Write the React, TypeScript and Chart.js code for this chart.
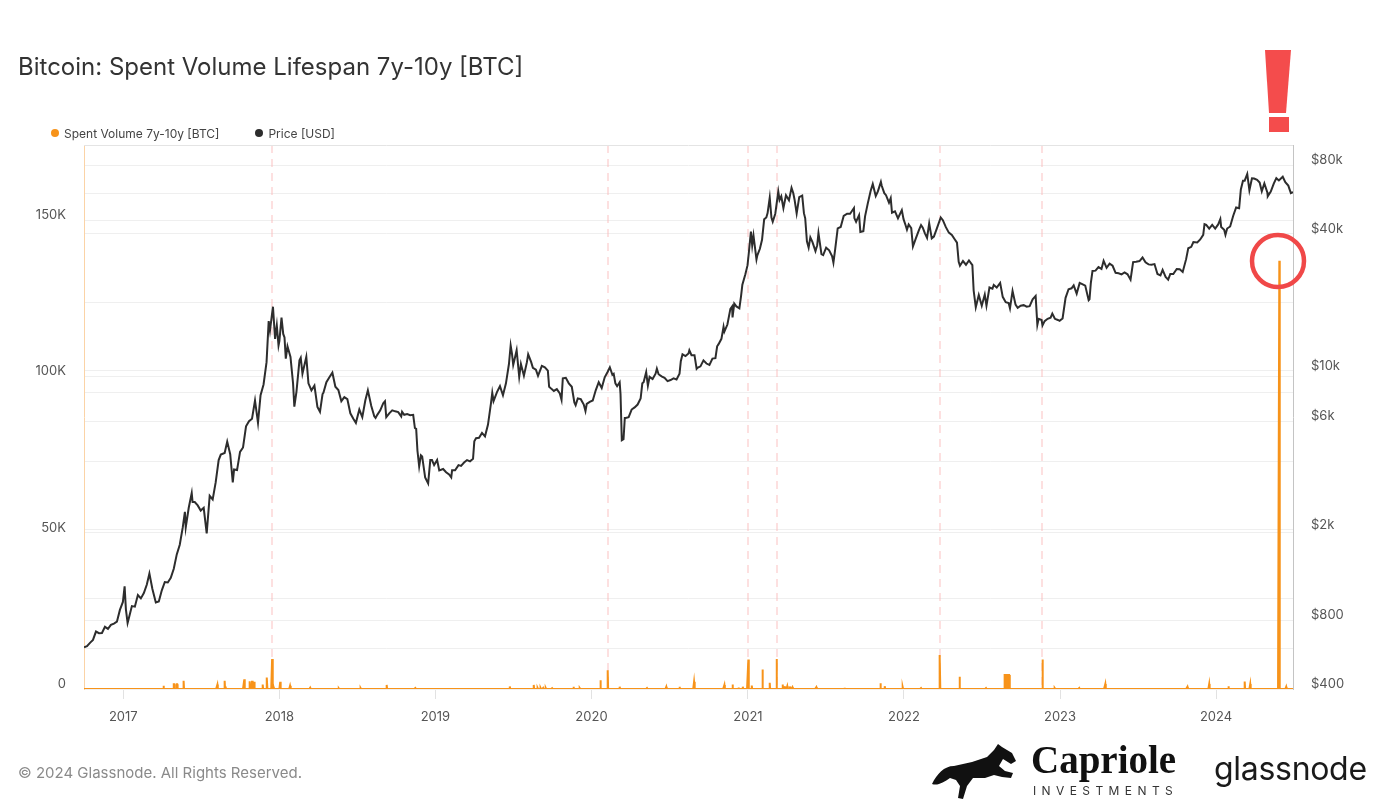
import React, { useEffect, useRef } from "react";
import { Chart, registerables } from "chart.js";

Chart.register(...registerables);

// ---------- DATA ----------
const xStart = "2016-10-01";
const xEnd = "2024-06-29";
const yearTicks = [2017, 2018, 2019, 2020, 2021, 2022, 2023, 2024];
const volumeTicks = [0, 50000, 100000, 150000];
const priceTicks = [400, 600, 800, 1000, 2000, 4000, 6000, 8000, 10000, 20000, 40000, 60000, 80000];
const priceTickLabels = [400, 800, 2000, 6000, 10000, 40000, 80000];
const markerDates = ["2017-12-15", "2020-02-08", "2021-01-02", "2021-03-09", "2022-03-26", "2022-11-21"];

const price2016: [string, number][] = [
  ["10-01", 610], ["10-08", 617], ["10-15", 638], ["10-22", 657], ["10-29", 715], ["11-05", 703], ["11-12", 705],
  ["11-19", 750], ["11-26", 735], ["12-03", 765], ["12-10", 775], ["12-17", 790], ["12-24", 890], ["12-31", 965],
];
const price2017: [string, number][] = [
  ["01-04", 1130], ["01-07", 895], ["01-11", 780], ["01-14", 820], ["01-21", 925], ["01-28", 920], ["02-04", 1035],
  ["02-11", 1000], ["02-18", 1055], ["02-25", 1150], ["03-03", 1285], ["03-10", 1100], ["03-18", 960], ["03-25", 970],
  ["04-01", 1085], ["04-08", 1180], ["04-15", 1175], ["04-22", 1230], ["04-29", 1350], ["05-06", 1560], ["05-13", 1720],
  ["05-20", 2050], ["05-25", 2400], ["05-27", 2050], ["06-03", 2500], ["06-10", 2900], ["06-12", 2650], ["06-17", 2650],
  ["06-24", 2560], ["07-01", 2430], ["07-08", 2500], ["07-15", 1930], ["07-22", 2820], ["07-29", 2720], ["08-05", 3230],
  ["08-12", 4050], ["08-17", 4280], ["08-26", 4350], ["09-01", 4880], ["09-08", 4300], ["09-14", 3230], ["09-17", 3680],
  ["09-24", 3660], ["10-01", 4400], ["10-08", 4600], ["10-15", 5700], ["10-22", 6000], ["10-29", 6150], ["11-05", 7400],
  ["11-12", 5900], ["11-18", 7800], ["11-25", 8700], ["12-02", 10900], ["12-07", 16500], ["12-10", 15000], ["12-17", 19100],
  ["12-22", 13800], ["12-26", 15800], ["12-30", 12900],
];
const price2018: [string, number][] = [
  ["01-01", 13500], ["01-06", 17100], ["01-10", 14500], ["01-13", 14000], ["01-16", 11300], ["01-20", 12800], ["01-27", 11500],
  ["02-02", 8800], ["02-05", 6950], ["02-10", 8100], ["02-17", 11100], ["02-20", 11400], ["02-24", 9700], ["03-05", 11500],
  ["03-10", 8800], ["03-17", 8200], ["03-24", 8600], ["03-31", 6930], ["04-06", 6600], ["04-12", 7900], ["04-14", 8000],
  ["04-21", 8900], ["04-28", 9350], ["05-05", 9800], ["05-12", 8500], ["05-19", 8230], ["05-26", 7350], ["06-02", 7650],
  ["06-09", 7500], ["06-16", 6500], ["06-23", 6150], ["06-29", 5900], ["07-07", 6750], ["07-14", 6250], ["07-21", 7400],
  ["07-27", 8200], ["08-04", 7000], ["08-11", 6300], ["08-14", 6200], ["08-18", 6400], ["08-25", 6700], ["09-01", 7200],
  ["09-05", 7350], ["09-08", 6250], ["09-15", 6500], ["09-22", 6700], ["09-29", 6630], ["10-06", 6580], ["10-13", 6300],
  ["10-15", 6600], ["10-20", 6400], ["10-27", 6450], ["11-03", 6380], ["11-10", 6400], ["11-14", 5600], ["11-17", 5550],
  ["11-20", 4450], ["11-24", 3800], ["11-28", 4250], ["12-01", 4200], ["12-08", 3400], ["12-15", 3200], ["12-20", 4050],
  ["12-24", 4050], ["12-29", 3850],
];
const price2019: [string, number][] = [
  ["01-05", 4050], ["01-10", 3650], ["01-19", 3700], ["01-26", 3580], ["02-02", 3500], ["02-07", 3400], ["02-09", 3650],
  ["02-16", 3650], ["02-24", 3850], ["03-02", 3820], ["03-09", 3950], ["03-16", 4050], ["03-23", 4000], ["03-30", 4100],
  ["04-02", 4900], ["04-06", 5050], ["04-13", 5070], ["04-20", 5330], ["04-27", 5150], ["05-04", 5800], ["05-11", 7200],
  ["05-14", 8000], ["05-17", 7350], ["05-25", 8050], ["06-01", 8550], ["06-08", 7800], ["06-15", 8800], ["06-22", 10700],
  ["06-26", 12900], ["06-29", 11900], ["07-02", 10600], ["07-06", 11400], ["07-10", 12300], ["07-16", 9400], ["07-20", 10700],
  ["07-27", 9500], ["08-03", 10900], ["08-06", 11800], ["08-13", 10900], ["08-17", 10300], ["08-24", 10100], ["08-29", 9500],
  ["09-07", 10500], ["09-14", 10350], ["09-21", 10000], ["09-24", 8500], ["09-30", 8300], ["10-05", 8150], ["10-12", 8300],
  ["10-19", 7950], ["10-23", 7450], ["10-26", 9250], ["11-02", 9300], ["11-09", 8800], ["11-16", 8500], ["11-22", 7250],
  ["11-25", 7050], ["11-30", 7550], ["12-07", 7500], ["12-14", 7100], ["12-18", 6650], ["12-21", 7150], ["12-28", 7300],
];
const price2020: [string, number][] = [
  ["01-04", 7400], ["01-11", 8200], ["01-18", 8900], ["01-25", 8400], ["02-01", 9350], ["02-08", 9900], ["02-13", 10350],
  ["02-19", 9600], ["02-22", 9700], ["02-26", 8800], ["03-01", 8550], ["03-07", 8900], ["03-09", 7900], ["03-12", 4950],
  ["03-16", 5000], ["03-19", 6200], ["03-21", 6200], ["03-28", 6250], ["04-04", 6750], ["04-11", 6900], ["04-18", 7100],
  ["04-25", 7550], ["04-29", 8800], ["05-02", 8900], ["05-08", 9850], ["05-12", 8600], ["05-16", 9400], ["05-23", 9200],
  ["05-30", 9700], ["06-02", 10200], ["06-06", 9650], ["06-13", 9450], ["06-20", 9300], ["06-27", 9000], ["07-04", 9100],
  ["07-11", 9250], ["07-18", 9150], ["07-25", 9700], ["07-28", 11000], ["08-01", 11800], ["08-08", 11600], ["08-15", 11900],
  ["08-17", 12300], ["08-22", 11700], ["08-29", 11700], ["09-03", 10200], ["09-05", 10300], ["09-12", 10450], ["09-19", 11100],
  ["09-26", 10750], ["10-03", 10600], ["10-10", 11300], ["10-17", 11350], ["10-21", 12800], ["10-24", 13050], ["10-31", 13800],
  ["11-05", 15600], ["11-07", 14850], ["11-14", 15950], ["11-21", 18700], ["11-25", 19150], ["11-26", 17150], ["11-30", 19700],
  ["12-05", 19150], ["12-12", 18800], ["12-16", 21300], ["12-19", 23850], ["12-26", 26500], ["12-31", 29000],
];
const price2021: [string, number][] = [
  ["01-03", 32800], ["01-08", 40800], ["01-11", 35500], ["01-14", 39200], ["01-21", 30800], ["01-23", 32100], ["01-29", 34300],
  ["02-03", 37600], ["02-08", 46200], ["02-13", 47100], ["02-16", 49200], ["02-21", 57500], ["02-25", 47000], ["02-28", 45100],
  ["03-06", 48900], ["03-13", 61200], ["03-16", 56200], ["03-20", 58300], ["03-25", 51700], ["03-31", 58900], ["04-07", 56000],
  ["04-13", 63500], ["04-17", 60300], ["04-20", 56500], ["04-25", 49000], ["05-01", 57800], ["05-08", 58700], ["05-12", 49200],
  ["05-15", 46700], ["05-19", 37000], ["05-23", 34700], ["05-27", 38500], ["06-01", 36700], ["06-08", 33500], ["06-12", 35500],
  ["06-15", 40200], ["06-22", 32500], ["06-26", 32200], ["07-03", 34700], ["07-10", 33800], ["07-17", 31800], ["07-20", 29800],
  ["07-24", 34000], ["07-30", 42200], ["08-06", 42800], ["08-13", 47800], ["08-21", 48900], ["08-28", 48900], ["09-06", 51800],
  ["09-07", 46800], ["09-11", 45100], ["09-18", 48200], ["09-21", 40700], ["09-28", 41000], ["10-02", 47600], ["10-08", 53900],
  ["10-15", 61500], ["10-20", 66000], ["10-27", 58500], ["11-01", 61300], ["11-08", 67500], ["11-10", 64900], ["11-16", 60200],
  ["11-20", 59000], ["11-27", 54700], ["12-01", 57200], ["12-04", 49400], ["12-11", 50100], ["12-18", 46700], ["12-27", 50700],
  ["12-31", 46300],
];
const price2022: [string, number][] = [
  ["01-05", 43400], ["01-08", 41600], ["01-12", 43900], ["01-18", 42300], ["01-22", 35100], ["01-29", 38200], ["02-05", 41400],
  ["02-10", 43600], ["02-14", 42500], ["02-19", 40100], ["02-24", 38300], ["03-01", 44400], ["03-07", 38100], ["03-12", 38800],
  ["03-19", 42200], ["03-28", 47100], ["04-02", 45800], ["04-09", 42700], ["04-16", 40400], ["04-23", 39500], ["04-30", 37700],
  ["05-05", 36500], ["05-09", 30100], ["05-12", 28900], ["05-19", 30300], ["05-26", 29200], ["06-02", 30500], ["06-10", 29100],
  ["06-13", 22500], ["06-18", 19000], ["06-25", 21500], ["07-02", 19300], ["07-09", 21600], ["07-13", 19300], ["07-20", 23200],
  ["07-27", 22900], ["07-30", 23800], ["08-06", 23200], ["08-14", 24300], ["08-20", 21100], ["08-27", 20000], ["09-03", 19800],
  ["09-06", 18800], ["09-12", 22400], ["09-19", 19500], ["09-24", 18900], ["10-01", 19300], ["10-08", 19400], ["10-15", 19100],
  ["10-22", 19200], ["10-29", 20600], ["11-05", 21300], ["11-09", 15900], ["11-12", 16900], ["11-19", 16700], ["11-21", 15800],
  ["11-26", 16500], ["12-03", 16900], ["12-10", 17100], ["12-14", 17800], ["12-20", 16900], ["12-27", 16700], ["12-31", 16550],
];
const price2023: [string, number][] = [
  ["01-07", 16950], ["01-14", 20900], ["01-21", 22800], ["01-28", 23000], ["02-02", 23700], ["02-09", 21800], ["02-16", 24300],
  ["02-22", 24000], ["03-01", 23650], ["03-09", 20400], ["03-11", 20600], ["03-14", 24200], ["03-18", 27400], ["03-25", 27500],
  ["04-01", 28500], ["04-08", 28000], ["04-13", 30400], ["04-20", 28300], ["04-27", 29500], ["05-04", 28900], ["05-11", 26900],
  ["05-18", 26800], ["05-25", 26500], ["06-01", 27000], ["06-08", 26500], ["06-15", 25100], ["06-21", 30000], ["06-28", 30100],
  ["07-06", 30300], ["07-13", 31400], ["07-20", 29900], ["07-27", 29300], ["08-03", 29200], ["08-10", 29400], ["08-17", 26600],
  ["08-24", 26200], ["08-29", 27700], ["09-05", 25800], ["09-11", 25100], ["09-16", 26600], ["09-23", 26600], ["10-01", 27980],
  ["10-08", 27900], ["10-15", 27150], ["10-23", 30900], ["10-28", 34500], ["11-04", 35000], ["11-09", 36700], ["11-18", 36600],
  ["11-25", 37700], ["12-02", 39500], ["12-05", 44000], ["12-09", 43700], ["12-16", 42100], ["12-23", 43700], ["12-30", 42100],
];
const price2024: [string, number][] = [
  ["01-06", 43900], ["01-11", 46300], ["01-13", 42800], ["01-20", 41600], ["01-23", 39500], ["01-27", 42100], ["02-03", 43000],
  ["02-10", 47800], ["02-17", 52100], ["02-24", 51700], ["02-28", 62500], ["03-04", 68300], ["03-08", 68300], ["03-14", 73100],
  ["03-19", 62000], ["03-25", 70000], ["03-30", 69800], ["04-06", 68900], ["04-12", 67000], ["04-17", 61300], ["04-23", 66400],
  ["04-30", 60600], ["05-01", 58300], ["05-08", 61200], ["05-15", 66300], ["05-21", 70100], ["05-27", 68500], ["06-05", 71100],
  ["06-11", 67300], ["06-18", 65000], ["06-24", 60300], ["06-29", 60900],
];

// Spent volume 7y-10y [BTC]: days with visible outflows (all other days ~0)
const spentVolumeSpikes: [string, number][] = [
  ["2017-04-05", 1000], ["2017-04-29", 1500], ["2017-04-30", 1500], ["2017-05-06", 1500], ["2017-05-07", 1500],
  ["2017-05-22", 2600], ["2017-08-09", 1400], ["2017-08-26", 2600], ["2017-08-28", 800], ["2017-10-11", 3100],
  ["2017-10-23", 2500], ["2017-10-29", 2600], ["2017-11-03", 2300], ["2017-11-23", 1400], ["2017-12-03", 3700],
  ["2017-12-15", 9600], ["2017-12-18", 700], ["2018-01-03", 2300], ["2018-01-26", 1000], ["2018-03-14", 400],
  ["2018-05-20", 200], ["2018-07-10", 250], ["2018-09-09", 1300], ["2018-11-15", 300], ["2019-01-20", 200],
  ["2019-06-24", 800], ["2019-08-19", 1300], ["2019-08-28", 300], ["2019-09-04", 300], ["2019-09-10", 350],
  ["2019-09-16", 300], ["2019-10-01", 250], ["2019-11-20", 700], ["2019-12-05", 300], ["2020-01-22", 2800],
  ["2020-02-08", 6000], ["2020-03-07", 700], ["2020-05-10", 300], ["2020-06-24", 700], ["2020-07-25", 700],
  ["2020-08-28", 2300], ["2020-11-07", 1300], ["2020-11-26", 1400], ["2020-12-10", 500], ["2020-12-20", 700],
  ["2021-01-02", 9400], ["2021-01-10", 1100], ["2021-02-04", 6200], ["2021-02-21", 2000], ["2021-03-09", 9600],
  ["2021-03-23", 1400], ["2021-03-28", 900], ["2021-04-03", 900], ["2021-04-09", 800], ["2021-04-15", 600],
  ["2021-06-10", 600], ["2021-08-15", 400], ["2021-11-07", 1800], ["2021-11-17", 900], ["2021-12-29", 600],
  ["2022-02-10", 300], ["2022-03-26", 10900], ["2022-05-11", 3900], ["2022-07-12", 300],
  ["2022-08-24", 4500], ["2022-08-25", 4500], ["2022-08-26", 4500], ["2022-08-27", 4500], ["2022-08-28", 4300],
  ["2022-08-29", 4300], ["2022-08-30", 4500], ["2022-08-31", 4500], ["2022-09-01", 4500], ["2022-09-02", 4500],
  ["2022-09-03", 4500], ["2022-09-04", 4500], ["2022-11-21", 9400], ["2022-12-20", 300], ["2023-02-15", 300],
  ["2023-04-17", 1600], ["2023-07-20", 200], ["2023-10-26", 700], ["2023-12-16", 1600], ["2024-01-30", 900],
  ["2024-03-08", 2400], ["2024-03-21", 1600], ["2024-05-28", 137000], ["2024-06-13", 700],
];

// ---------- HELPERS ----------
const DAY = 86400000;
const toMs = (s: string) => {
  const [y, m, d] = s.split("-").map(Number);
  return Date.UTC(y, m - 1, d);
};
const priceYears: [number, [string, number][]][] = [
  [2016, price2016], [2017, price2017], [2018, price2018], [2019, price2019], [2020, price2020],
  [2021, price2021], [2022, price2022], [2023, price2023], [2024, price2024],
];
const fmtPrice = (v: number) => (v >= 1000 ? `$${v / 1000}k` : `$${v}`);

const FONT = "Inter, 'Noto Sans', sans-serif";

export default function App() {
  const canvasRef = useRef<HTMLCanvasElement | null>(null);

  useEffect(() => {
    if (!canvasRef.current) return;
    const start = toMs(xStart);
    const end = toMs(xEnd);

    const priceData = priceYears.flatMap(([yr, arr]) => arr.map(([md, v]) => ({ x: toMs(`${yr}-${md}`), y: v })));
    const spikeMap = new Map(spentVolumeSpikes.map(([d, v]) => [d, v]));
    const volumeData: { x: number; y: number }[] = [];
    for (let t = start; t <= end; t += DAY) {
      const key = new Date(t).toISOString().slice(0, 10);
      volumeData.push({ x: t, y: spikeMap.get(key) ?? 0 });
    }

    const framePlugin = {
      id: "framePlugin",
      beforeDatasetsDraw(chart: any) {
        const { ctx, chartArea, scales } = chart;
        const { top, bottom, left, right } = chartArea;
        ctx.save();
        ctx.strokeStyle = "rgba(250,180,180,0.42)";
        ctx.lineWidth = 2;
        ctx.setLineDash([8, 6]);
        markerDates.forEach((d) => {
          const px = Math.round(scales.x.getPixelForValue(toMs(d)));
          ctx.beginPath();
          ctx.moveTo(px, top);
          ctx.lineTo(px, bottom);
          ctx.stroke();
        });
        ctx.setLineDash([]);
        ctx.strokeStyle = "#e4e4e4";
        ctx.lineWidth = 1;
        ctx.beginPath();
        ctx.moveTo(left, top + 0.5);
        ctx.lineTo(right, top + 0.5);
        ctx.stroke();
        ctx.restore();
      },
    };

    Chart.defaults.font.family = FONT;
    Chart.defaults.font.size = 13;
    Chart.defaults.color = "#555";

    const chart = new Chart(canvasRef.current, {
      type: "line",
      data: {
        datasets: [
          {
            label: "Price [USD]",
            data: priceData,
            yAxisID: "y1",
            borderColor: "#2d2d2d",
            borderWidth: 2,
            pointRadius: 0,
            tension: 0,
            fill: false,
            order: 0,
          },
          {
            label: "Spent Volume 7y-10y [BTC]",
            data: volumeData,
            yAxisID: "y",
            borderColor: "#F7931A",
            backgroundColor: "#F7931A",
            borderWidth: 2,
            pointRadius: 0,
            tension: 0,
            fill: "origin",
            order: 1,
          },
        ],
      },
      options: {
        animation: false,
        responsive: false,
        devicePixelRatio: 1,
        parsing: false,
        layout: { padding: { top: 145, left: 0, right: 0, bottom: 0 } },
        plugins: { legend: { display: false }, title: { display: false }, tooltip: { enabled: false } },
        scales: {
          x: {
            type: "linear",
            min: start,
            max: end,
            afterBuildTicks: (scale: any) => {
              scale.ticks = yearTicks.map((y) => ({ value: Date.UTC(y, 0, 1) }));
            },
            afterFit: (scale: any) => {
              scale.height = 113;
            },
            ticks: {
              autoSkip: false,
              maxRotation: 0,
              padding: 10,
              color: "#555",
              font: { size: 13 },
              callback: (v: any) => String(new Date(Number(v)).getUTCFullYear()),
            },
            grid: { drawOnChartArea: false, drawTicks: true, tickLength: 10, color: "#e2e2e2" },
            border: { display: false },
          },
          y: {
            type: "linear",
            position: "left",
            min: 0,
            max: 174000,
            afterBuildTicks: (scale: any) => {
              scale.ticks = volumeTicks.map((v) => ({ value: v }));
            },
            afterFit: (scale: any) => {
              scale.width = 84;
            },
            ticks: {
              padding: 18,
              labelOffset: -5,
              color: "#555",
              font: { size: 13 },
              callback: (v: any) => (Number(v) === 0 ? "0" : `${Number(v) / 1000}K`),
            },
            grid: { color: "#efefef", drawTicks: false },
            border: { display: true, color: "#fbd3a6", width: 1 },
          },
          y1: {
            type: "logarithmic",
            position: "right",
            min: 400,
            max: 98000,
            afterBuildTicks: (scale: any) => {
              scale.ticks = priceTicks.map((v) => ({ value: v }));
            },
            afterFit: (scale: any) => {
              scale.width = 88;
            },
            ticks: {
              padding: 18,
              labelOffset: -5,
              color: "#555",
              font: { size: 13 },
              callback: (v: any) => (priceTickLabels.includes(Number(v)) ? fmtPrice(Number(v)) : ""),
            },
            grid: { color: "#efefef", drawTicks: false },
            border: { display: true, color: "#c4c4c4", width: 1 },
          },
        },
      } as any,
      plugins: [framePlugin],
    });
    return () => chart.destroy();
  }, []);

  return (
    <div style={{ position: "absolute", left: 0, top: 0, width: 1381, height: 802, overflow: "hidden", background: "#fff", fontFamily: FONT }}>
      <canvas ref={canvasRef} width={1381} height={802} style={{ position: "absolute", left: 0, top: 0, width: 1381, height: 802 }} />
      <div style={{ position: "absolute", left: 18, top: 54, fontSize: 24, lineHeight: "26px", color: "#333", whiteSpace: "nowrap" }}>
        Bitcoin: Spent Volume Lifespan 7y-10y [BTC]
      </div>
      <div style={{ position: "absolute", left: 51, top: 126, height: 14, display: "flex", alignItems: "center", fontSize: 12, color: "#444", whiteSpace: "nowrap" }}>
        <span style={{ width: 8, height: 8, borderRadius: 4, background: "#F7931A", display: "inline-block", marginRight: 5 }} />
        <span>Spent Volume 7y-10y [BTC]</span>
        <span style={{ width: 8, height: 8, borderRadius: 4, background: "#2d2d2d", display: "inline-block", marginLeft: 36, marginRight: 5 }} />
        <span>Price [USD]</span>
      </div>
      <div style={{ position: "absolute", left: 18, top: 764, fontSize: 15, lineHeight: "18px", color: "#8a8a8a", whiteSpace: "nowrap" }}>
        © 2024 Glassnode. All Rights Reserved.
      </div>
      {/* Capriole logo */}
      <svg style={{ position: "absolute", left: 932, top: 744 }} width={86} height={56} viewBox="0 0 86 56">
        <path
          d="M0 40 C5 30 12 22 22 22 L40 18 L55 13 L62 6 L66 0 L70 3 L80 9 L84 17 L79 20 L71 15 L67 22 L73 27 L81 29 L79 34 L70 33 L62 31 L53 34 L41 34 L35 42 L31 55 L26 54 L28 42 L24 36 L18 34 C12 38 6 42 0 40 Z"
          fill="#111"
        />
      </svg>
      <div style={{ position: "absolute", left: 1031, top: 740, fontFamily: "'Liberation Serif', serif", fontWeight: 700, fontSize: 39, lineHeight: "39px", color: "#111", whiteSpace: "nowrap" }}>
        Capriole
      </div>
      <div style={{ position: "absolute", left: 1033, top: 784, fontSize: 12, lineHeight: "14px", letterSpacing: "5.4px", color: "#333", whiteSpace: "nowrap" }}>
        INVESTMENTS
      </div>
      <div style={{ position: "absolute", left: 1214, top: 753, fontSize: 32, lineHeight: "32px", color: "#1a1a1a", whiteSpace: "nowrap", letterSpacing: "-0.3px" }}>
        glassnode
      </div>
      {/* annotations */}
      <svg style={{ position: "absolute", left: 0, top: 0, pointerEvents: "none" }} width={1381} height={802}>
        <polygon points="1265,50 1291,50 1286,113 1269,113" fill="#F44C4C" />
        <rect x={1269} y={117} width={20} height={15} fill="#F44C4C" />
        <circle cx={1278} cy={261} r={26} fill="none" stroke="#F04848" strokeWidth={4.5} />
      </svg>
    </div>
  );
}
